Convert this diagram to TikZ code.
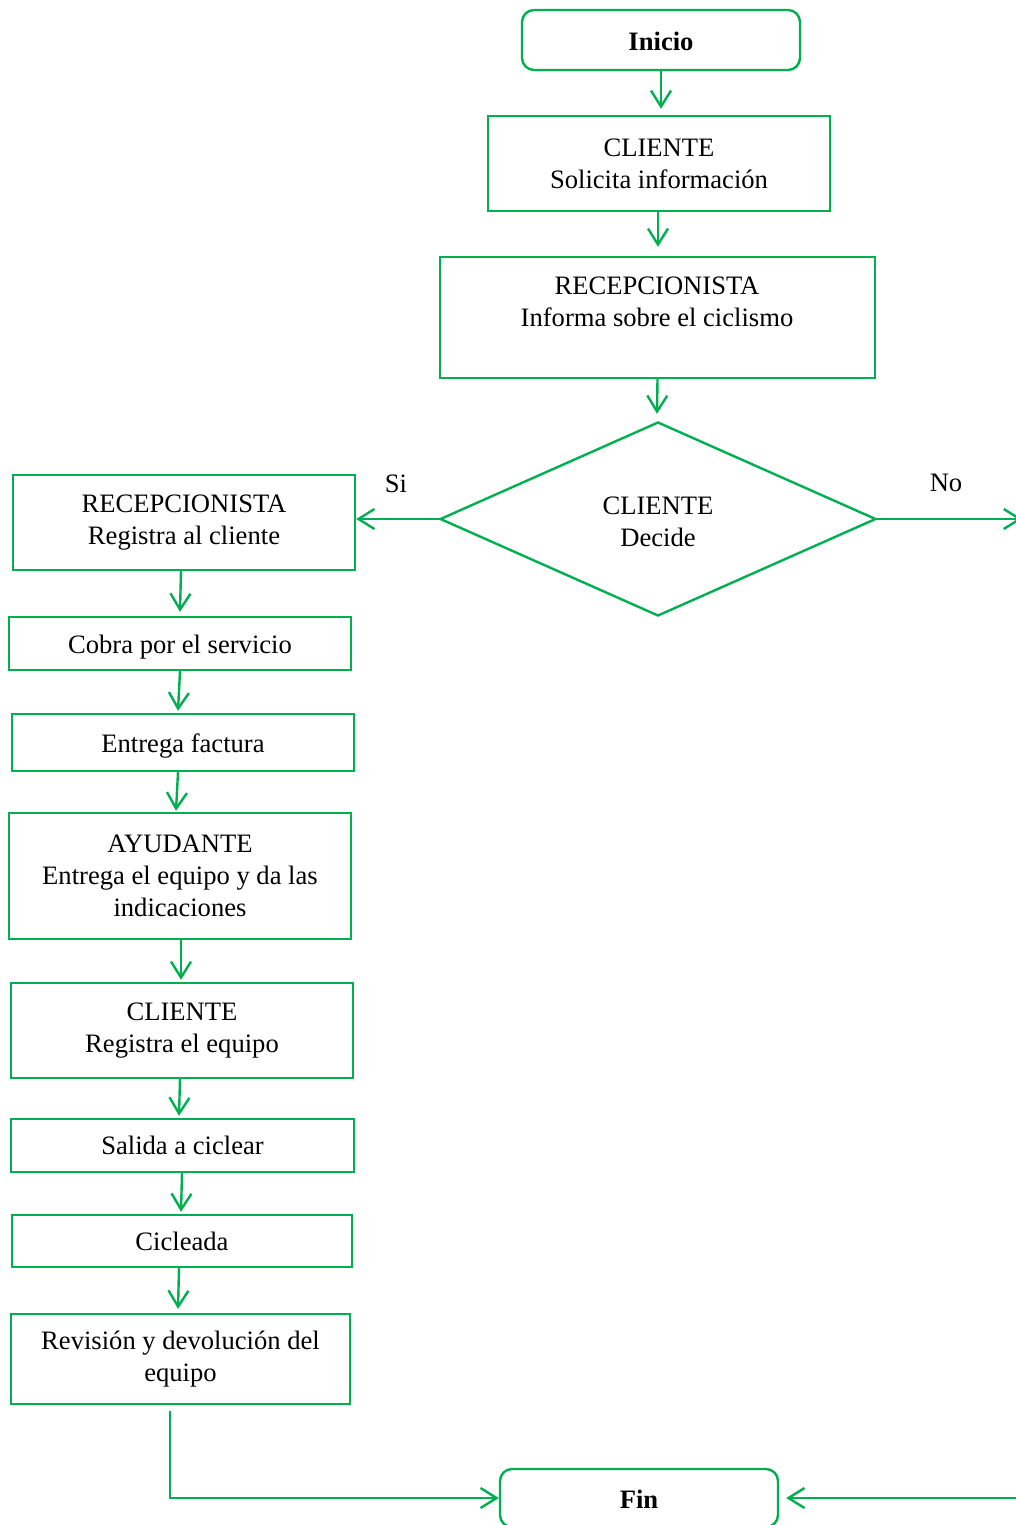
\documentclass[tikz,border=0pt]{standalone}
\usepackage{fontspec}
\setmainfont{Liberation Serif}
\usetikzlibrary{arrows.meta,shapes.geometric,calc}
\definecolor{flowgreen}{RGB}{0,176,80}
\tikzset{
  box/.style={draw=flowgreen, line width=1.2pt, inner sep=0pt, align=center, font=\fontsize{13.3}{16}\selectfont},
  lowbox/.style={box, execute at begin node={\rule{0pt}{13.3pt}}},
  term/.style={draw=flowgreen, line width=1.2pt, inner sep=0pt, align=center, rounded corners=6pt, font=\fontsize{13.3}{16}\selectfont\bfseries, execute at begin node={\rule{0pt}{10.5pt}}},
  flow/.style={draw=flowgreen, line width=1.2pt, -{Straight Barb[length=8pt,width=10pt,line width=1.2pt]}},
  lbl/.style={font=\fontsize{13.3}{16}\selectfont, inner sep=0pt},
}
\begin{document}
\begin{tikzpicture}[x=0.5pt,y=-0.5pt]
\useasboundingbox (0,0) rectangle (1016,1525);
\node[term, minimum width=139pt, minimum height=30pt] (ini) at (661,40) {Inicio};
\node[box, minimum width=171pt, minimum height=47.5pt] (cli1) at (659,163.5) {CLIENTE\\Solicita información};
\node[draw=flowgreen, line width=1.2pt, minimum width=217.5pt, minimum height=60.5pt] (rec1) at (657.5,317.5) {};
\node[lbl, align=center] (rec1t) at (657,302) {RECEPCIONISTA\\Informa sobre el ciclismo};
\node[draw=flowgreen, line width=1.2pt, diamond, inner sep=0pt, minimum width=218pt, minimum height=97pt] (dec) at (658,519) {};
\node[lbl, align=center] (dect) at (658,522) {CLIENTE\\Decide};
\node[box, minimum width=171pt, minimum height=47.5pt] (rec2) at (184,522.5) {RECEPCIONISTA\\Registra al cliente};
\node[lowbox, minimum width=171pt, minimum height=26.5pt] (cob) at (180,643.5) {Cobra por el servicio};
\node[lowbox, minimum width=171pt, minimum height=28.5pt] (fac) at (183,742.5) {Entrega factura};
\node[box, minimum width=171pt, minimum height=63pt] (ayu) at (180,876) {AYUDANTE\\Entrega el equipo y da las\\indicaciones};
\node[box, minimum width=171pt, minimum height=47.5pt] (cli2) at (182,1030.5) {CLIENTE\\Registra el equipo};
\node[box, minimum width=171.5pt, minimum height=26.5pt] (sal) at (182.5,1145.5) {Salida a ciclear};
\node[box, minimum width=170pt, minimum height=26pt] (cic) at (182,1241) {Cicleada};
\node[box, minimum width=169.5pt, minimum height=45pt] (rev) at (180.5,1359) {Revisión y devolución del\\equipo};
\node[term, minimum width=139pt, minimum height=29pt] (fin) at (639,1498) {Fin};
\node[lbl] (si) at (396,484) {Si};
\node[lbl] (no) at (946,483) {No};
\coordinate (noend) at (1022,519);
\coordinate (finin) at (1016,1498);
\draw[flow] (ini.south) -- ($(cli1.north)+(2,-6)$);
\draw[flow] ($(cli1.south)+(-1,0)$) -- ($(rec1.north)+(0.5,-9)$);
\draw[flow] (rec1.south) -- ($(dec.north)+(-1,-7)$);
\draw[flow] (dec.west) -- (dec.west -| rec2.east);
\draw[flow] (dec.east) -- (noend);
\draw[flow] ($(rec2.south)+(-3,0)$) -- ($(cob.north)+(0,-4)$);
\draw[flow] (cob.south) -- ($(fac.north)+(-5,-2)$);
\draw[flow] ($(fac.south)+(-5,0)$) -- ($(ayu.north)+(-4,-1)$);
\draw[flow] ($(ayu.south)+(1,0)$) -- ($(cli2.north)+(-1,-2)$);
\draw[flow] ($(cli2.south)+(-2,0)$) -- ($(sal.north)+(-3.5,-2)$);
\draw[flow] ($(sal.south)+(-0.5,0)$) -- ($(cic.north)+(-1,-2)$);
\draw[flow] ($(cic.south)+(-3,0)$) -- ($(rev.north)+(-2.5,-4)$);
\draw[flow] ($(rev.south)+(-10.5,6)$) |- (fin.west);
\draw[flow] (finin) -- ($(fin.east)+(7,0)$);
\end{tikzpicture}
\end{document}
